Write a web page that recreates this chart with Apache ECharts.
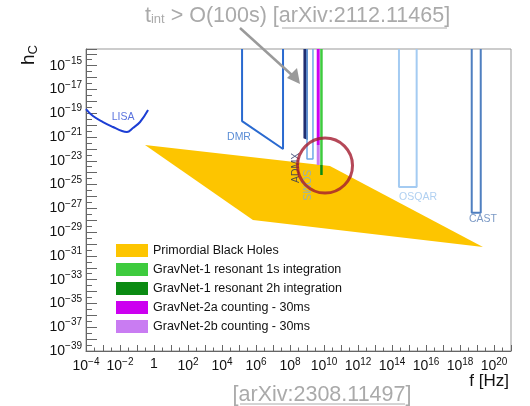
<!DOCTYPE html>
<html><head><meta charset="utf-8">
<script src="https://cdn.jsdelivr.net/npm/echarts@6/dist/echarts.min.js"></script>
<style>html,body{margin:0;padding:0;background:#fff}#c{width:530px;height:406px}</style>
</head><body><div id="c"></div>
<script>
// All values are log10 exponents: f in Hz, h_c dimensionless
const xMin = -4, xMax = 21, yMin = -39, yMax = -13.6;

const lisaF = [-4, -3.59, -3.0, -2.41, -1.88, -1.59, -1.24, -0.82, -0.35];
const lisaH = [-18.65, -19.24, -19.74, -20.16, -20.5, -20.58, -20.24, -19.74, -18.73];

const pbhF = [-0.53, 10.35, 19.35, 5.82];
const pbhH = [-21.67, -23.44, -30.25, -27.98];

const dmrF = [5.18, 5.18, 7.59, 7.59];
const dmrH = [-13.6, -19.66, -22.01, -13.6];

const admxF = [8.79, 8.79, 9.05, 9.05];
const admxH = [-13.6, -21.1, -21.25, -13.6];

const sqmsF = [9.0, 9.0, 9.35, 9.35];
const sqmsH = [-13.6, -22.85, -22.85, -13.6];

const osqarF = [14.41, 14.41, 15.45, 15.45];
const osqarH = [-13.6, -25.21, -25.21, -13.6];

const castF = [18.69, 18.69, 19.22, 19.22];
const castH = [-13.6, -27.37, -27.37, -13.6];

const gn2aF = [9.66, 9.66];   const gn2aH = [-13.6, -21.67];
const gn2bF = [9.66, 9.66];   const gn2bH = [-21.67, -23.36];
const gn1sF = [9.85, 9.85];   const gn1sH = [-13.6, -23.36];
const gn2hF = [9.85, 9.85];   const gn2hH = [-23.36, -24.2];

const circleF = [10.06]; const circleH = [-23.4];

const expLabels = ['LISA', 'DMR', 'OSQAR', 'CAST', 'ADMX', 'SQMS'];
const expLabelF = [-1.82, 5.0, 15.53, 19.35, 8.33, 8.94];
const expLabelH = [-19.32, -21.0, -26.05, -27.9, -23.6, -25.04];

const legendNames = ['Primordial Black Holes', 'GravNet-1 resonant 1s integration',
  'GravNet-1 resonant 2h integration', 'GravNet-2a counting - 30ms', 'GravNet-2b counting - 30ms'];

const FONT = '"Liberation Sans", Arial, sans-serif';
const zip = (a, b) => a.map((v, i) => [v, b[i]]);

function makeFormatter(parity) {
  return function (v) {
    if (Math.abs(v - Math.round(v)) > 1e-6) return '';
    const e = Math.round(v);
    if (Math.abs(e % 2) !== parity) return '';
    if (e === 0) return '{b|1}';
    return '{b|10}{e|' + (e < 0 ? '\u2212' + (-e) : e) + '}';
  };
}
const richLbl = {
  b: { fontSize: 14, fontFamily: FONT, color: '#111' },
  e: { fontSize: 10, fontFamily: FONT, color: '#111', padding: [0, 0, 9, 0] }
};

function polySeries(name, F, H, color, z) {
  const pts = zip(F, H);
  return {
    type: 'custom', name: name, z: z || 1, silent: true,
    itemStyle: { color: color },
    data: [0],
    renderItem: function (params, api) {
      return { type: 'polygon', shape: { points: pts.map(p => api.coord(p)) },
               style: { fill: color, stroke: 'none' } };
    }
  };
}
function lineSeries(name, F, H, color, width, smooth, z) {
  return {
    type: 'line', name: name, data: zip(F, H), showSymbol: false, symbol: 'none',
    smooth: smooth || false, z: z || 3, silent: true,
    lineStyle: { color: color, width: width },
    itemStyle: { color: color }
  };
}

const labelStyles = {
  LISA: { color: '#2f4fd6', rotate: 0 },
  DMR: { color: '#2f6fca', rotate: 0 },
  OSQAR: { color: '#9cc4ee', rotate: 0 },
  CAST: { color: '#5a80b6', rotate: 0 },
  ADMX: { color: '#1f2a5e', rotate: 90 },
  SQMS: { color: '#79addf', rotate: -90 }
};

const GRAY = '#aaaaaa';

const option = {
  animation: false,
  backgroundColor: '#fff',
  grid: { left: 86, right: 19, top: 49, bottom: 55, show: true, borderColor: '#999', borderWidth: 1 },
  xAxis: {
    type: 'value', min: xMin, max: xMax, interval: 1,
    axisLine: { show: true, onZero: false, lineStyle: { color: '#666' } },
    axisTick: { show: true, inside: true, length: 6, lineStyle: { color: '#666' } },
    minorTick: { show: true, splitNumber: 2, length: 3.5, lineStyle: { color: '#666' } },
    splitLine: { show: false },
    axisLabel: { margin: 6, formatter: makeFormatter(0), rich: richLbl, hideOverlap: false }
  },
  yAxis: {
    type: 'value', min: yMin, max: yMax, interval: 1,
    axisLine: { show: true, onZero: false, lineStyle: { color: '#666' } },
    axisTick: { show: true, inside: true, length: 11, lineStyle: { color: '#666' } },
    minorTick: { show: true, splitNumber: 2, length: 6, lineStyle: { color: '#666' } },
    splitLine: { show: false },
    axisLabel: { margin: 4, formatter: makeFormatter(1), rich: richLbl, hideOverlap: false }
  },
  legend: {
    orient: 'vertical', left: 116, top: 244, padding: 0, itemWidth: 32, itemHeight: 13, itemGap: 6,
    selectedMode: false,
    textStyle: { fontFamily: FONT, fontSize: 12.5, color: '#111' },
    data: legendNames.map(n => ({ name: n, icon: 'rect' }))
  },
  series: [
    polySeries(legendNames[0], pbhF, pbhH, '#fdc500', 1),
    lineSeries('LISA', lisaF, lisaH, '#1c3ed4', 2, 0.4),
    lineSeries('DMR', dmrF, dmrH, '#2a6ad0', 2),
    polySeries('ADMX', admxF, admxH, '#1f2f72', 3),
    lineSeries('SQMS', sqmsF, sqmsH, '#6fa8e6', 1.5),
    lineSeries('OSQAR', osqarF, osqarH, '#a4cbf2', 2),
    lineSeries('CAST', castF, castH, '#4f7fc0', 2),
    lineSeries(legendNames[3], gn2aF, gn2aH, '#cc00f0', 3, false, 4),
    lineSeries(legendNames[4], gn2bF, gn2bH, '#c97cf2', 3, false, 4),
    lineSeries(legendNames[1], gn1sF, gn1sH, '#3ecb3e', 2.5, false, 5),
    lineSeries(legendNames[2], gn2hF, gn2hH, '#0a8a12', 2.5, false, 5),
    {
      type: 'scatter', name: 'labels', silent: true, z: 6, symbolSize: 0,
      data: expLabels.map((t, i) => ({
        value: [expLabelF[i], expLabelH[i]],
        label: {
          show: true, position: 'inside', formatter: t,
          color: labelStyles[t].color, rotate: labelStyles[t].rotate,
          fontFamily: FONT, fontSize: 10.5
        }
      }))
    },
    {
      type: 'scatter', name: 'circle', silent: true, z: 10,
      symbol: 'circle', symbolSize: 55,
      data: zip(circleF, circleH),
      itemStyle: { color: 'rgba(0,0,0,0)', borderColor: '#a31a2e', borderWidth: 3 }
    }
  ],
  graphic: [
    { type: 'text', x: 29, y: 55, rotation: Math.PI / 2, z: 20,
      style: { text: '{h|h}{c|C}', align: 'center', verticalAlign: 'middle',
        rich: { h: { fontSize: 19, fontFamily: FONT, fill: '#111' },
                c: { fontSize: 13, fontFamily: FONT, fill: '#111', padding: [8, 0, 0, 0] } } } },
    { type: 'text', x: 509, y: 381, z: 20,
      style: { text: 'f [Hz]', align: 'right', verticalAlign: 'middle',
        font: '17px ' + FONT, fill: '#111' } },
    { type: 'text', x: 145, y: 16, z: 20,
      style: { text: '{t|t}{s|int}{t| > O(100s) [arXiv:2112.11465]}', align: 'left', verticalAlign: 'middle',
        rich: { t: { fontSize: 21.5, fontFamily: FONT, fill: GRAY },
                s: { fontSize: 13, fontFamily: FONT, fill: GRAY, padding: [7, 0, 0, 0] } } } },
    { type: 'line', z: 20, shape: { x1: 282, y1: 28, x2: 447, y2: 28 },
      style: { stroke: GRAY, lineWidth: 1 } },
    { type: 'line', z: 20, shape: { x1: 240, y1: 28, x2: 293, y2: 76 },
      style: { stroke: '#9a9a9a', lineWidth: 2.5 } },
    { type: 'polygon', z: 20, shape: { points: [[287, 78], [297, 68], [300, 84]] },
      style: { fill: '#9a9a9a' } },
    { type: 'text', x: 322, y: 395, z: 20,
      style: { text: '[arXiv:2308.11497]', align: 'center', verticalAlign: 'middle',
        font: '21.5px ' + FONT, fill: GRAY } },
    { type: 'line', z: 20, shape: { x1: 240, y1: 404, x2: 405, y2: 404 },
      style: { stroke: GRAY, lineWidth: 1 } }
  ]
};

const chart = echarts.init(document.getElementById('c'), null, { renderer: 'canvas' });
chart.setOption(option);
</script></body></html>
